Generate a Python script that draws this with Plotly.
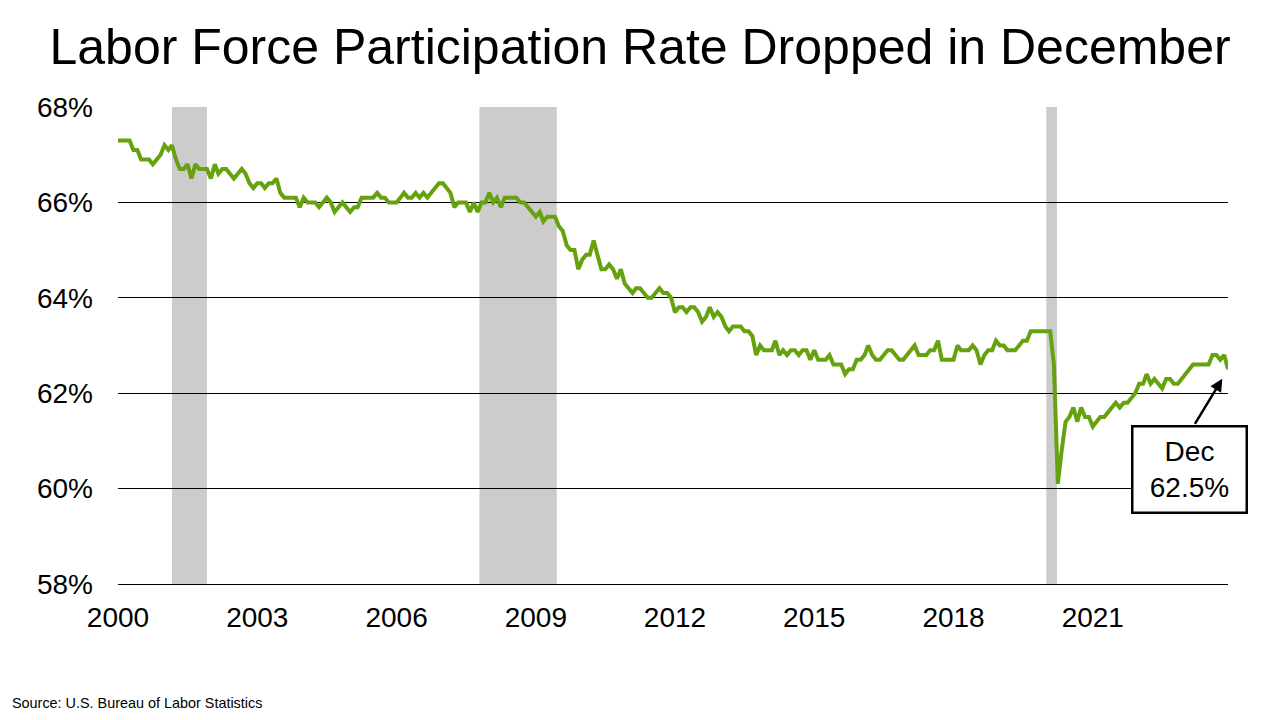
import pandas as pd
import plotly.graph_objects as go

# Civilian labor force participation rate, monthly, seasonally adjusted (%)
y2000 = [67.3, 67.3, 67.3, 67.3, 67.1, 67.1, 66.9, 66.9, 66.9, 66.8, 66.9, 67.0]
y2001 = [67.2, 67.1, 67.2, 66.9, 66.7, 66.7, 66.8, 66.5, 66.8, 66.7, 66.7, 66.7]
y2002 = [66.5, 66.8, 66.6, 66.7, 66.7, 66.6, 66.5, 66.6, 66.7, 66.6, 66.4, 66.3]
y2003 = [66.4, 66.4, 66.3, 66.4, 66.4, 66.5, 66.2, 66.1, 66.1, 66.1, 66.1, 65.9]
y2004 = [66.1, 66.0, 66.0, 66.0, 65.9, 66.0, 66.1, 66.0, 65.8, 65.9, 66.0, 65.9]
y2005 = [65.8, 65.9, 65.9, 66.1, 66.1, 66.1, 66.1, 66.2, 66.1, 66.1, 66.0, 66.0]
y2006 = [66.0, 66.1, 66.2, 66.1, 66.1, 66.2, 66.1, 66.2, 66.1, 66.2, 66.3, 66.4]
y2007 = [66.4, 66.3, 66.2, 65.9, 66.0, 66.0, 66.0, 65.8, 66.0, 65.8, 66.0, 66.0]
y2008 = [66.2, 66.0, 66.1, 65.9, 66.1, 66.1, 66.1, 66.1, 66.0, 66.0, 65.9, 65.8]
y2009 = [65.7, 65.8, 65.6, 65.7, 65.7, 65.7, 65.5, 65.4, 65.1, 65.0, 65.0, 64.6]
y2010 = [64.8, 64.9, 64.9, 65.2, 64.9, 64.6, 64.6, 64.7, 64.6, 64.4, 64.6, 64.3]
y2011 = [64.2, 64.1, 64.2, 64.2, 64.1, 64.0, 64.0, 64.1, 64.2, 64.1, 64.1, 64.0]
y2012 = [63.7, 63.8, 63.8, 63.7, 63.8, 63.8, 63.7, 63.5, 63.6, 63.8, 63.6, 63.7]
y2013 = [63.6, 63.4, 63.3, 63.4, 63.4, 63.4, 63.3, 63.3, 63.2, 62.8, 63.0, 62.9]
y2014 = [62.9, 62.9, 63.1, 62.8, 62.9, 62.8, 62.9, 62.9, 62.8, 62.9, 62.9, 62.7]
y2015 = [62.9, 62.7, 62.7, 62.7, 62.8, 62.6, 62.6, 62.6, 62.4, 62.5, 62.5, 62.7]
y2016 = [62.7, 62.8, 63.0, 62.8, 62.7, 62.7, 62.8, 62.9, 62.9, 62.8, 62.7, 62.7]
y2017 = [62.8, 62.9, 63.0, 62.8, 62.8, 62.8, 62.9, 62.9, 63.1, 62.7, 62.7, 62.7]
y2018 = [62.7, 63.0, 62.9, 62.9, 62.9, 63.0, 62.9, 62.6, 62.8, 62.9, 62.9, 63.1]
y2019 = [63.0, 63.0, 62.9, 62.9, 62.9, 63.0, 63.1, 63.1, 63.3, 63.3, 63.3, 63.3]
y2020 = [63.3, 63.3, 62.6, 60.1, 60.8, 61.4, 61.5, 61.7, 61.4, 61.7, 61.5, 61.5]
y2021 = [61.3, 61.4, 61.5, 61.5, 61.6, 61.7, 61.8, 61.7, 61.8, 61.8, 61.9, 62.0]
y2022 = [62.2, 62.2, 62.4, 62.2, 62.3, 62.2, 62.1, 62.3, 62.3, 62.2, 62.2, 62.3]
y2023 = [62.4, 62.5, 62.6, 62.6, 62.6, 62.6, 62.6, 62.8, 62.8, 62.7, 62.8, 62.5]

# recessions (shaded)
rec_start = ["2001-03-01", "2007-10-15", "2020-01-01"]
rec_end = ["2001-12-01", "2009-06-15", "2020-03-25"]

years = [y2000, y2001, y2002, y2003, y2004, y2005, y2006, y2007, y2008, y2009, y2010, y2011,
         y2012, y2013, y2014, y2015, y2016, y2017, y2018, y2019, y2020, y2021, y2022, y2023]
rate = [v for yr in years for v in yr]
dates = pd.date_range("2000-01-01", periods=len(rate), freq="MS")

FONT = "Liberation Sans, Arial, sans-serif"

fig = go.Figure()
fig.add_trace(go.Scatter(x=dates, y=rate, mode="lines",
                         line=dict(color="#66A10E", width=4), hoverinfo="x+y"))

for s, e in zip(rec_start, rec_end):
    fig.add_shape(type="rect", xref="x", yref="paper", x0=s, x1=e, y0=0, y1=1,
                  fillcolor="#CCCCCC", line=dict(width=0), layer="below")

# callout box
fig.add_annotation(xref="paper", yref="paper", x=0.965, y=0.24,
                   xanchor="center", yanchor="middle", showarrow=False,
                   text="Dec<br>62.5%", font=dict(family=FONT, size=28, color="black"),
                   bgcolor="white", bordercolor="black", borderwidth=2.5, borderpad=7,
                   width=98, height=70)
# arrow to last point
fig.add_annotation(x=dates[-1], y=rate[-1], text="", showarrow=True,
                   ax=-34, ay=56, standoff=11, arrowhead=2, arrowsize=1,
                   arrowwidth=2.5, arrowcolor="black")

fig.add_annotation(xref="paper", yref="paper", x=-0.097, y=-0.25,
                   xanchor="left", yanchor="middle", showarrow=False,
                   text="Source: U.S. Bureau of Labor Statistics",
                   font=dict(family=FONT, size=14.4, color="black"))

# page body adds an 8px offset, so margins are shifted to compensate
fig.update_layout(
    width=1280, height=720,
    margin=dict(l=110, r=60, t=99, b=144),
    paper_bgcolor="white", plot_bgcolor="white",
    showlegend=False,
    font=dict(family=FONT, color="black"),
    title=dict(text="Labor Force Participation Rate Dropped in December",
               x=0.4938, xref="container", xanchor="center",
               y=0.946, yref="container", yanchor="middle",
               font=dict(family=FONT, size=50, color="black")),
    xaxis=dict(type="date", range=["2000-01-01", "2023-12-01"],
               tick0="2000-01-01", dtick="M36", tickformat="%Y",
               showgrid=False, zeroline=False, showline=True, linecolor="black",
               linewidth=1, ticks="", ticklabelstandoff=8,
               tickfont=dict(family=FONT, size=28, color="black")),
    yaxis=dict(range=[58, 68], dtick=2, ticksuffix="%", tickformat="d",
               showgrid=True, gridcolor="black", gridwidth=1, zeroline=False,
               showline=False, ticks="", ticklabelstandoff=24,
               tickfont=dict(family=FONT, size=28, color="black")),
)

fig.write_html("out.html")
